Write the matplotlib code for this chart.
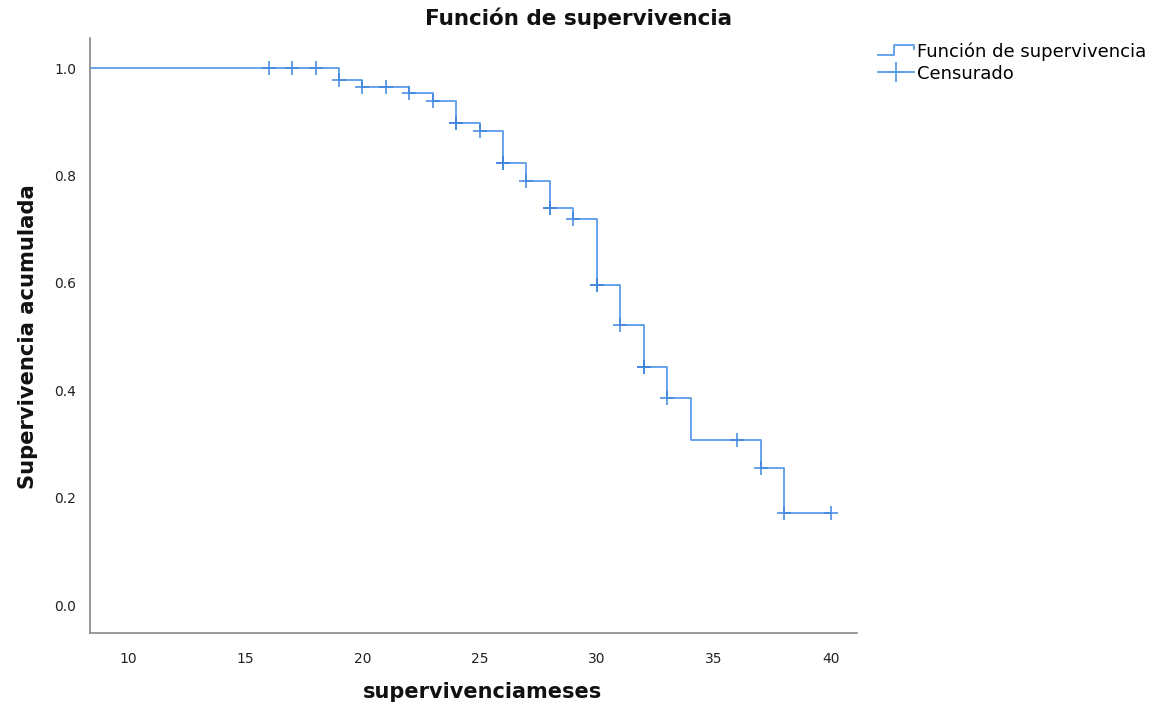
import matplotlib
matplotlib.use("Agg")
import matplotlib.pyplot as plt
from matplotlib.lines import Line2D
from matplotlib.legend_handler import HandlerBase

# ---- data ----
event_times = [0, 19, 20, 22, 23, 24, 25, 26, 27, 28, 29, 30, 31, 32, 33, 34, 37, 38]
survival = [1.0, 0.978, 0.965, 0.953, 0.939, 0.898, 0.883, 0.823, 0.790, 0.739,
            0.719, 0.596, 0.521, 0.444, 0.385, 0.307, 0.256, 0.171]
end_time = 40
censor_times = [16, 17, 18, 19, 20, 21, 22, 23, 24, 24, 25, 26, 26, 27, 28, 28,
                29, 30, 30, 31, 32, 32, 33, 36, 37, 38, 40]
x_ticks = [10, 15, 20, 25, 30, 35, 40]
y_ticks = [0.0, 0.2, 0.4, 0.6, 0.8, 1.0]

LINE_C = "#5c9ce8"
MARK_C = "#3f86e0"


def surv_at(t):
    s = survival[0]
    for et, sv in zip(event_times, survival):
        if et <= t:
            s = sv
    return s


fig = plt.figure(figsize=(11.57, 7.09), dpi=100)
ax = fig.add_axes([0.0778, 0.1072, 0.6629, 0.8392])

xs = event_times + [end_time]
ys = survival + [survival[-1]]
ax.step(xs, ys, where="post", color=LINE_C, lw=1.3)

cy = [surv_at(t) for t in censor_times]
ax.plot(censor_times, cy, linestyle="none", marker="+", markersize=10,
        markeredgewidth=1.3, color=MARK_C, alpha=0.85)

ax.set_xlim(8.38, 41.1)
ax.set_ylim(-0.052, 1.056)
ax.set_xticks(x_ticks)
ax.set_xticklabels([str(v) for v in x_ticks])
ax.set_yticks(y_ticks)
ax.set_yticklabels([f"{v:.1f}" for v in y_ticks])
ax.tick_params(length=0, labelsize=10, colors="#222222", pad=14)
ax.tick_params(axis="y", pad=10)
for s in ["top", "right"]:
    ax.spines[s].set_visible(False)
for s in ["left", "bottom"]:
    ax.spines[s].set_color("#888888")
    ax.spines[s].set_linewidth(1.2)

fig.text(0.5, 0.974, "Función de supervivencia", ha="center", va="center",
         fontsize=15.5, fontweight="bold", color="#111111")
fig.text(0.0245, 0.525, "Supervivencia acumulada", ha="center", va="center",
         rotation=90, fontsize=15.2, fontweight="bold", color="#111111")
fig.text(0.417, 0.024, "supervivenciameses", ha="center", va="center",
         fontsize=15, fontweight="bold", color="#111111")


class StepHandler(HandlerBase):
    def create_artists(self, legend, orig_handle, xdescent, ydescent, width,
                       height, fontsize, trans):
        x0 = -xdescent
        y0 = -ydescent
        xs_ = [x0, x0 + width * 0.45, x0 + width * 0.45, x0 + width, x0 + width]
        ys_ = [y0 + height * 0.15, y0 + height * 0.15, y0 + height * 0.95,
               y0 + height * 0.95, y0 + height * 0.6]
        ln = Line2D(xs_, ys_, color=LINE_C, lw=1.3, transform=trans)
        return [ln]


class CensorHandler(HandlerBase):
    def create_artists(self, legend, orig_handle, xdescent, ydescent, width,
                       height, fontsize, trans):
        x0 = -xdescent
        y0 = -ydescent
        ln = Line2D([x0, x0 + width], [y0 + height / 2] * 2, color=LINE_C,
                    lw=1.3, transform=trans)
        mk = Line2D([x0 + width / 2], [y0 + height / 2], marker="+",
                    markersize=15, markeredgewidth=1.3, color=LINE_C,
                    linestyle="none", transform=trans)
        return [ln, mk]


h1 = Line2D([], [], color=LINE_C)
h2 = Line2D([], [], color=MARK_C)
leg = fig.legend([h1, h2], ["Función de supervivencia", "Censurado"],
                 handler_map={h1: StepHandler(), h2: CensorHandler()},
                 loc="upper left", bbox_to_anchor=(0.748, 0.958),
                 frameon=False, fontsize=13, handlelength=2.0,
                 handletextpad=0.15, labelspacing=0.2, borderpad=0.2)

fig.savefig("out.png", dpi=100)
